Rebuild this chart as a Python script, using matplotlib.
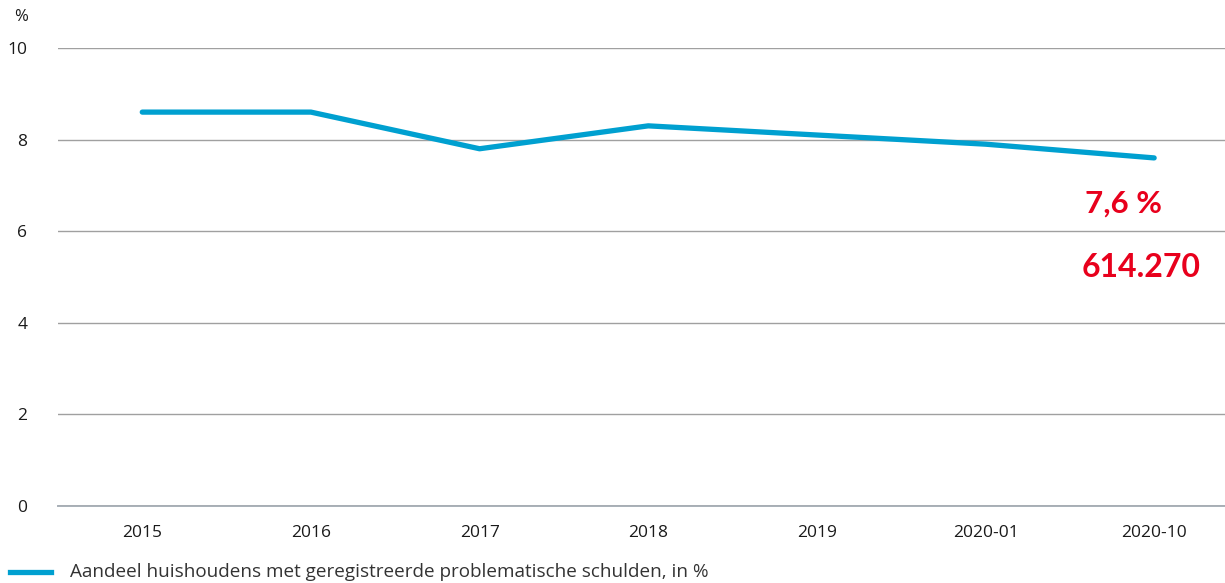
import matplotlib
matplotlib.use("Agg")
import matplotlib.pyplot as plt
from matplotlib.lines import Line2D

plt.rcParams['font.family'] = ['Open Sans', 'DejaVu Sans']

categories = ["2015", "2016", "2017", "2018", "2019", "2020-01", "2020-10"]
share_pct = [8.6, 8.6, 7.8, 8.3, 8.1, 7.9, 7.6]
yticks = [0, 2, 4, 6, 8, 10]
series_label = "Aandeel huishoudens met geregistreerde problematische schulden, in %"
note_pct = "7,6 %"
note_count = "614.270"

LINE = "#00a0d0"
RED = "#e8001c"
GRID = "#a0a0a0"

fig = plt.figure(figsize=(12.25, 5.83), dpi=100)
ax = fig.add_axes([0.0473, 0.132, 0.9527, 0.7857])

x = list(range(len(categories)))
ax.plot(x, share_pct, color=LINE, lw=3.8, solid_capstyle="round", solid_joinstyle="round")

ax.set_ylim(0, 10)
ax.set_xlim(-0.5, 6.42)
ax.set_yticks(yticks)
ax.set_yticklabels([str(v) for v in yticks])
ax.set_xticks(x)
ax.set_xticklabels(categories)
ax.yaxis.grid(True, color=GRID, lw=1.0)
# baseline at 0 would sit on the axes edge, draw it unclipped
ax.axhline(0, color="#a8b0b8", lw=1.4, clip_on=False, zorder=0)
ax.set_axisbelow(True)
for s in ax.spines.values():
    s.set_visible(False)
ax.tick_params(axis="both", length=0, labelsize=12.5, colors="#1a1a1a")
ax.tick_params(axis="x", pad=14)
ax.tick_params(axis="y", pad=22)
for lbl in ax.get_yticklabels():
    lbl.set_horizontalalignment("right")

fig.text(0.0115, 0.97, "%", fontsize=12, color="#1a1a1a", va="center", ha="left")

ax.text(5.82, 6.6, note_pct, color=RED, fontsize=22.5, fontweight="bold",
        ha="center", va="center", family=["Lato", "DejaVu Sans"])
ax.text(5.92, 5.2, note_count, color=RED, fontsize=23, fontweight="bold",
        ha="center", va="center", family=["Lato", "DejaVu Sans"])

fig.add_artist(Line2D([0.008, 0.042], [0.019, 0.019], color=LINE, lw=3.8,
                      transform=fig.transFigure))
fig.text(0.057, 0.019, series_label, fontsize=13.6, color="#333333", va="center", ha="left")

fig.savefig("out.png", dpi=100)
